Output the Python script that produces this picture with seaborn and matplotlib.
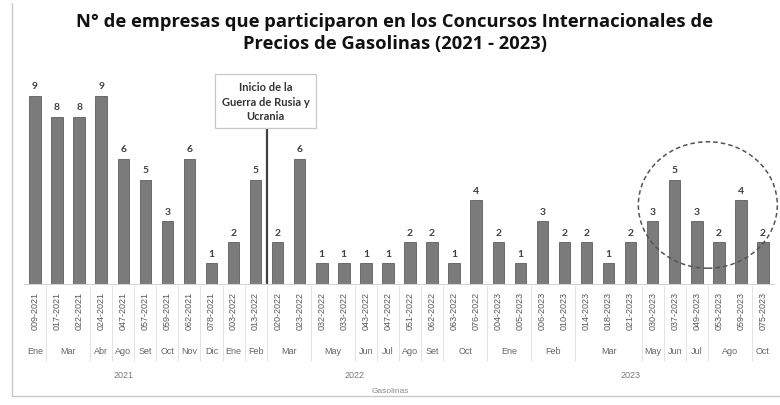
import matplotlib
matplotlib.use("Agg")
import matplotlib.pyplot as plt
import matplotlib.transforms as mtransforms
from matplotlib.patches import Ellipse
from matplotlib.lines import Line2D
import seaborn as sns
import pandas as pd

# ---- data ----
licitaciones = ["009-2021", "017-2021", "022-2021", "024-2021", "047-2021", "057-2021",
                "059-2021", "062-2021", "078-2021", "003-2022", "013-2022", "020-2022",
                "023-2022", "032-2022", "033-2022", "043-2022", "047-2022", "051-2022",
                "062-2022", "063-2022", "076-2022", "004-2023", "005-2023", "006-2023",
                "010-2023", "014-2023", "018-2023", "021-2023", "030-2023", "037-2023",
                "049-2023", "053-2023", "059-2023", "075-2023"]
empresas = [9, 8, 8, 9, 6, 5, 3, 6, 1, 2, 5, 2, 6, 1, 1, 1, 1, 2, 2, 1, 4,
            2, 1, 3, 2, 2, 1, 2, 3, 5, 3, 2, 4, 2]
meses = ["Ene", "Mar", "Abr", "Ago", "Set", "Oct", "Nov", "Dic",
         "Ene", "Feb", "Mar", "May", "Jun", "Jul", "Ago", "Set", "Oct",
         "Ene", "Feb", "Mar", "May", "Jun", "Jul", "Ago", "Oct"]
meses_n = [1, 2, 1, 1, 1, 1, 1, 1,
           1, 1, 2, 2, 1, 1, 1, 1, 2,
           2, 2, 3, 1, 1, 1, 2, 1]
anios = ["2021", "2022", "2023"]
anios_n = [9, 12, 13]
titulo = ("N° de empresas que participaron en los Concursos Internacionales de\n"
          "Precios de Gasolinas (2021 - 2023)")
nota = "Inicio de la\nGuerra de Rusia y\nUcrania"

df = pd.DataFrame({"licitacion": licitaciones, "empresas": empresas})

sns.set_theme(style="white")
plt.rcParams["font.family"] = ["Lato", "DejaVu Sans"]

W, H = 780, 406
fig = plt.figure(figsize=(W / 100, H / 100), dpi=100)
ax_left, ax_right = 24, 774
ax_base, ax_top = 285, 76
ax = fig.add_axes([ax_left / W, (H - ax_base) / H, (ax_right - ax_left) / W, (ax_base - ax_top) / H])

sns.barplot(data=df, x="licitacion", y="empresas", color="#7b7b7b", width=0.52,
            edgecolor="#5e5e5e", linewidth=0.6, saturation=1, ax=ax)
ax.set_xlim(-0.5, len(licitaciones) - 0.5)
ax.set_ylim(0, 10)
ax.bar_label(ax.containers[0], padding=4, fontsize=7.5, fontweight="bold", color="#404040")

ax.set_ylabel("")
ax.set_xlabel("")
ax.set_yticks([])
for s in ["top", "right", "left"]:
    ax.spines[s].set_visible(False)
ax.spines["bottom"].set_color("#d4d4d4")
ax.spines["bottom"].set_linewidth(0.8)
ax.tick_params(axis="x", length=0, pad=5, labelsize=6.5, labelcolor="#595959", rotation=90)
for lab in ax.get_xticklabels():
    lab.set_fontfamily(["Liberation Sans", "DejaVu Sans"])

# multi-level category labels
bt = mtransforms.blended_transform_factory(ax.transData, fig.transFigure)
pos = 0
for m, n in zip(meses, meses_n):
    c = pos + (n - 1) / 2
    ax.text(c, (H - 352) / H, m, transform=bt, ha="center", va="center",
            fontsize=6.5, color="#666666", family=["Liberation Sans", "DejaVu Sans"])
    pos += n
    if pos < len(licitaciones):
        ax.add_line(Line2D([pos - 0.5, pos - 0.5], [(H - 287) / H, (H - 362) / H],
                           transform=bt, color="#e4e4e4", lw=0.7, clip_on=False))
pos = 0
for a, n in zip(anios, anios_n):
    c = pos + (n - 1) / 2
    ax.text(c, (H - 376) / H, a, transform=bt, ha="center", va="center",
            fontsize=6.5, color="#7a7a7a", family=["Liberation Sans", "DejaVu Sans"])
    pos += n

fig.text(390 / W, (H - 392) / H, "Gasolinas", ha="center", va="center",
         fontsize=6, color="#8a8a8a", family=["Liberation Sans", "DejaVu Sans"])

# title
fig.text(395 / W, (H - 33) / H, titulo, ha="center", va="center", fontsize=13.2,
         fontweight="bold", color="#111111", linespacing=1.25,
         family=["Open Sans", "DejaVu Sans"])

# annotation: start of the war
war_x = 10.5
ax.add_line(Line2D([war_x, war_x], [0, 7.45], color="#404040", lw=1.6, clip_on=False))
ax.text(war_x - 0.05, 8.75, nota, ha="center", va="center", fontsize=8, fontweight="bold",
        color="#333333", linespacing=1.4, clip_on=False,
        bbox=dict(boxstyle="square,pad=0.6", facecolor="white", edgecolor="#c8c8c8", lw=0.9))

# dashed circle highlighting 2023
ax.add_patch(Ellipse((30.5, 3.78), 6.3, 6.05, fill=False, edgecolor="#555555",
                     lw=1.1, linestyle=(0, (3, 2)), clip_on=False))

# chart frame lines
fig.add_artist(Line2D([12 / W, 12 / W], [(H - 4) / H, (H - 397) / H],
                      transform=fig.transFigure, color="#c8c8c8", lw=1.0))
fig.add_artist(Line2D([12 / W, 1.0], [(H - 397) / H, (H - 397) / H],
                      transform=fig.transFigure, color="#c8c8c8", lw=1.0))

fig.savefig("out.png", dpi=100)
